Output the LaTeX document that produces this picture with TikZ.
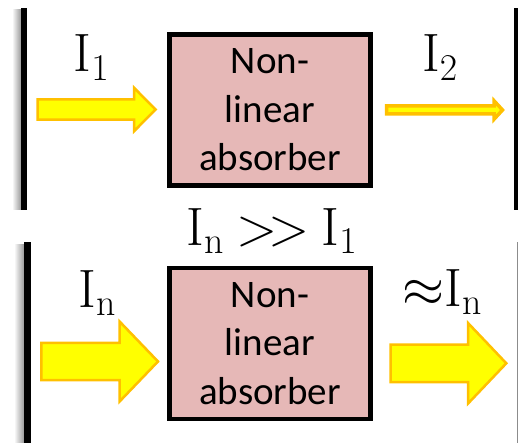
\RequirePackage{fix-cm}
\documentclass[tikz,border=0pt]{standalone}
\usepackage{fontspec}
\newfontfamily\boxfont{Carlito}

\definecolor{absfill}{HTML}{E6B8B7}
\definecolor{beamcore}{HTML}{FFFF00}
\definecolor{beamedge}{HTML}{FFC000}

\begin{document}
\begin{tikzpicture}[x=1pt,y=-1pt,
    absorber/.style={draw=black,line width=4.5pt,fill=absfill,minimum width=201pt,
      minimum height=151pt,align=center,inner sep=0pt,
      font=\boxfont\fontsize{39}{48.5}\selectfont},
    intens/.style={anchor=base,inner sep=0pt,font=\fontsize{54}{60}\selectfont},
    beam/.style={draw=beamedge,fill=beamcore,line width=2.5pt},
    shadow/.style={left color=white,right color=black!40}]
      \useasboundingbox (0,0) rectangle (518,443);

      % mirrors, top cavity
      \shade[shadow] (12,10) rectangle (21,210);
      \fill[black] (21,8) rectangle (27,210);
      \fill[black] (514,8) rectangle (518,210);
      % mirrors, bottom cavity
      \shade[shadow] (14,244) rectangle (24,443);
      \fill[black] (24,242) rectangle (31,443);
      \fill[black!45] (516.5,242) rectangle (518,443);

      % absorbers
      \node[absorber] (topabs) at (270,110) {Non-\\linear\\absorber};
      \node[absorber] (botabs) at (270,343.5) {Non-\\linear\\absorber};

      % beams
      \draw[beam] (37.7,99.3) -- (134,99.3) -- (134,87.7) -- (155.5,109.5)
                  -- (134,131.3) -- (134,119.7) -- (37.7,119.7) -- cycle;
      \draw[beam,line width=3.5pt] (386.7,106) -- (494,106) -- (494,100.75) -- (502.5,110)
                  -- (494,119.25) -- (494,114) -- (386.7,114) -- cycle;
      \draw[beam] (41.3,342.8) -- (119.6,342.8) -- (119.6,321.5) -- (158,361.5)
                  -- (119.6,401.5) -- (119.6,380.2) -- (41.3,380.2) -- cycle;
      \draw[beam] (390.6,344.6) -- (468,344.6) -- (468,323) -- (506.3,363.3)
                  -- (468,403.6) -- (468,382) -- (390.6,382) -- cycle;

      % intensities
      \node[intens] (ione) at (91.5,72) {$\mathrm{I}_1$};
      \node[intens] (itwo) at (440,72) {$\mathrm{I}_2$};
      \node[intens] (cond) at (272,245) {$\mathrm{I}_\mathrm{n}\mskip-1mu\mathrel{>\!>}\mskip-1mu\mathrm{I}_1$};
      \node[intens] (inin) at (97.5,307) {$\mathrm{I}_\mathrm{n}$};
      \node[intens] (inout) at (442.5,306) {${\approx}\mathrm{I}_\mathrm{n}$};
\end{tikzpicture}
\end{document}
